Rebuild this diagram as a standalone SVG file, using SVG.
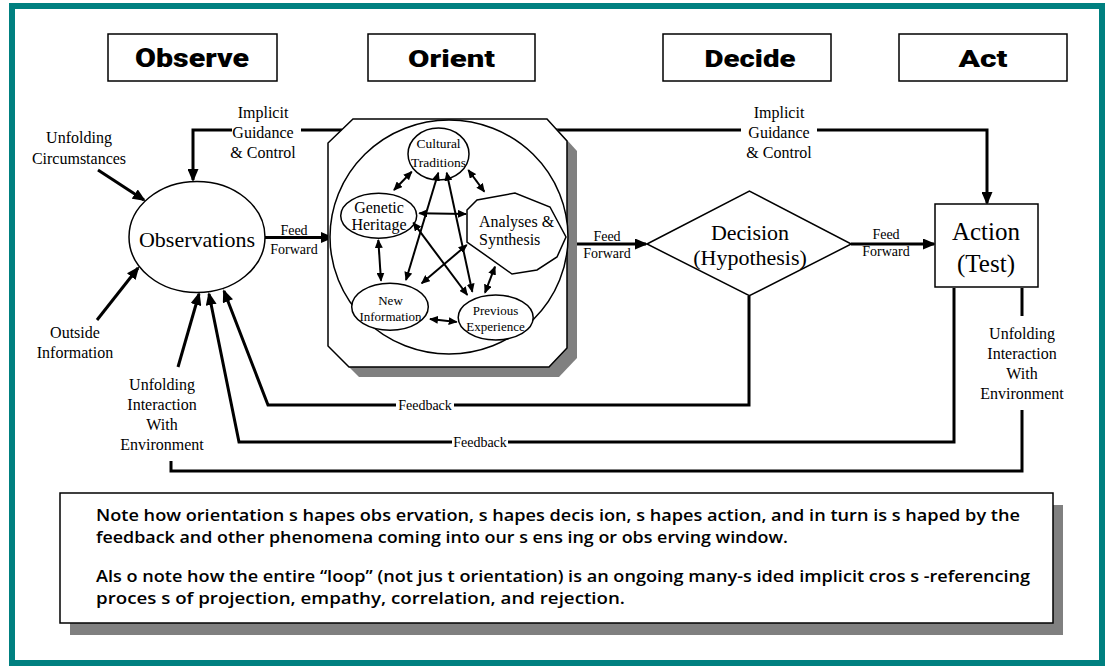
<svg xmlns="http://www.w3.org/2000/svg" width="1105" height="666" viewBox="0 0 1105 666">
<defs>
<style>
.hdr{fill:#fff;stroke:#000;stroke-width:1.5}
.hdrt{font-family:Roboto,"Liberation Sans",sans-serif;font-weight:900;text-anchor:middle;fill:#000}
.s{font-family:"Liberation Serif","Times New Roman",serif;text-anchor:middle;fill:#000}
.node{fill:#fff;stroke:#000;stroke-width:1.5}
.c{fill:none;stroke:#000;stroke-width:3}
.ci{fill:none;stroke:#000;stroke-width:2}
.note{font-family:"Open Sans","Liberation Sans",sans-serif;font-size:17px;font-weight:600;fill:#000}
</style>
<marker id="ah" markerUnits="userSpaceOnUse" markerWidth="13" markerHeight="11" viewBox="0 0 13 11" refX="11" refY="5.5" orient="auto">
<path d="M0,0 L13,5.5 L0,11 z" fill="#000"/>
</marker>
<marker id="ai" markerUnits="userSpaceOnUse" markerWidth="9" markerHeight="8" viewBox="0 0 9 8" refX="8" refY="4" orient="auto-start-reverse">
<path d="M0,0 L9,4 L0,8 z" fill="#000"/>
</marker>
</defs>
<rect x="0" y="0" width="1105" height="666" fill="#fff"/>
<rect x="12" y="6" width="1090" height="657" fill="#fff" stroke="#008080" stroke-width="6"/>

<g id="hdr-observe"><rect class="hdr" x="108" y="34" width="169" height="47"/><text class="hdrt" x="192" y="66.5" font-size="26" textLength="114" lengthAdjust="spacingAndGlyphs">Observe</text></g>
<g id="hdr-orient"><rect class="hdr" x="368" y="34" width="167" height="47"/><text class="hdrt" x="451.5" y="66.5" font-size="24" textLength="87" lengthAdjust="spacingAndGlyphs">Orient</text></g>
<g id="hdr-decide"><rect class="hdr" x="663" y="34" width="168" height="47"/><text class="hdrt" x="750" y="66.5" font-size="24" textLength="91" lengthAdjust="spacingAndGlyphs">Decide</text></g>
<g id="hdr-act"><rect class="hdr" x="899" y="34" width="168" height="47"/><text class="hdrt" x="983" y="66.5" font-size="24" textLength="49" lengthAdjust="spacingAndGlyphs">Act</text></g>

<g id="connectors">
<path class="c" d="M232,130 H193 V180" marker-end="url(#ah)"/>
<path class="c" d="M301,130 H342"/>
<path class="c" d="M555,130 H741"/>
<path class="c" d="M817,130 H987 V203" marker-end="url(#ah)"/>
<path class="c" d="M265,237.5 H332" marker-end="url(#ah)"/>
<path class="c" d="M567,244 H646" marker-end="url(#ah)"/>
<path class="c" d="M851,244 H934" marker-end="url(#ah)"/>
<path class="c" d="M98,170 L144,200" marker-end="url(#ah)"/>
<path class="c" d="M97,320 L138,268" marker-end="url(#ah)"/>
<path class="c" d="M178,367 L199,294" marker-end="url(#ah)"/>
<path class="c" d="M749,296 V405 H454"/>
<path class="c" d="M396,405 H268 L224,291" marker-end="url(#ah)"/>
<path class="c" d="M954,288 V442 H508"/>
<path class="c" d="M452,442 H239 L209,294" marker-end="url(#ah)"/>
<path class="c" d="M1022,288 V316"/>
<path class="c" d="M1022,410 V471 H171 V461"/>
<text class="s" x="425" y="409.5" font-size="14">Feedback</text>
<text class="s" x="480" y="446.5" font-size="14">Feedback</text>
<text class="s" x="294" y="235" font-size="14">Feed</text>
<text class="s" x="294" y="254" font-size="14">Forward</text>
<text class="s" x="607" y="241" font-size="14">Feed</text>
<text class="s" x="607" y="258" font-size="14">Forward</text>
<text class="s" x="886" y="239" font-size="14">Feed</text>
<text class="s" x="886" y="256" font-size="14">Forward</text>
<text class="s" x="263" y="118" font-size="16">Implicit</text>
<text class="s" x="263" y="138" font-size="16">Guidance</text>
<text class="s" x="263" y="158" font-size="16">&amp; Control</text>
<text class="s" x="779" y="118" font-size="16">Implicit</text>
<text class="s" x="779" y="138" font-size="16">Guidance</text>
<text class="s" x="779" y="158" font-size="16">&amp; Control</text>
<text class="s" x="79" y="143" font-size="16">Unfolding</text>
<text class="s" x="79" y="164" font-size="16">Circumstances</text>
<text class="s" x="75" y="338" font-size="16">Outside</text>
<text class="s" x="75" y="358" font-size="16">Information</text>
<text class="s" x="162" y="390" font-size="16">Unfolding</text>
<text class="s" x="162" y="410" font-size="16">Interaction</text>
<text class="s" x="162" y="430" font-size="16">With</text>
<text class="s" x="162" y="450" font-size="16">Environment</text>
<text class="s" x="1022" y="339" font-size="16">Unfolding</text>
<text class="s" x="1022" y="359" font-size="16">Interaction</text>
<text class="s" x="1022" y="379" font-size="16">With</text>
<text class="s" x="1022" y="399" font-size="16">Environment</text>
</g>

<g id="observations">
<ellipse class="node" cx="197" cy="237" rx="68" ry="55.5"/>
<text class="s" x="197" y="246.5" font-size="22">Observations</text>
</g>

<g id="orient">
<polygon points="363,129 557,129 577,151 577,358 559,377 359,377 338,356 338,153" fill="#808080"/>
<polygon class="node" points="353,119 547,119 567,141 567,348 549,367 349,367 328,346 328,143"/>
<ellipse class="node" cx="449" cy="237" rx="119" ry="117"/>
</g>

<g id="cultural-traditions">
<ellipse class="node" cx="438.5" cy="154" rx="30.5" ry="26"/>
<text class="s" x="438.5" y="147.5" font-size="13.5">Cultural</text>
<text class="s" x="438.5" y="167" font-size="13.5">Traditions</text>
</g>
<g id="genetic-heritage">
<ellipse class="node" cx="378.7" cy="215.7" rx="38" ry="22.5"/>
<text class="s" x="379" y="213" font-size="16">Genetic</text>
<text class="s" x="379" y="229.5" font-size="16">Heritage</text>
</g>
<g id="analyses-synthesis">
<polygon class="node" points="467,210 477,200 515,193 550,207 566,237 557,257 537,270 512,274 467,242"/>
<text class="s" x="479" y="226.5" font-size="16" style="text-anchor:start">Analyses &amp;</text>
<text class="s" x="479" y="244.5" font-size="16" style="text-anchor:start">Synthesis</text>
</g>
<g id="new-information">
<ellipse class="node" cx="390" cy="306.7" rx="38.3" ry="23.5"/>
<text class="s" x="390.5" y="305" font-size="13">New</text>
<text class="s" x="390.5" y="320.5" font-size="13">Information</text>
</g>
<g id="previous-experience">
<ellipse class="node" cx="495.7" cy="317.5" rx="37.5" ry="22.5"/>
<text class="s" x="495.5" y="315" font-size="13">Previous</text>
<text class="s" x="495.5" y="330.5" font-size="13">Experience</text>
</g>

<g id="inner-connectors">
<line class="ci" x1="411.7" y1="171.7" x2="394" y2="190" marker-start="url(#ai)" marker-end="url(#ai)"/>
<line class="ci" x1="468.3" y1="170" x2="484.3" y2="191.7" marker-start="url(#ai)" marker-end="url(#ai)"/>
<line class="ci" x1="419.3" y1="213.3" x2="466" y2="214" marker-start="url(#ai)" marker-end="url(#ai)"/>
<line class="ci" x1="378.3" y1="240" x2="381" y2="280.7" marker-start="url(#ai)" marker-end="url(#ai)"/>
<line class="ci" x1="430" y1="319" x2="456.7" y2="322" marker-start="url(#ai)" marker-end="url(#ai)"/>
<line class="ci" x1="495" y1="266.7" x2="485" y2="292.7" marker-start="url(#ai)" marker-end="url(#ai)"/>
<line class="ci" x1="406" y1="280" x2="438.3" y2="172.7" marker-start="url(#ai)" marker-end="url(#ai)"/>
<line class="ci" x1="446.7" y1="172.7" x2="472.3" y2="291.7" marker-start="url(#ai)" marker-end="url(#ai)"/>
<line class="ci" x1="413.3" y1="222.7" x2="467.3" y2="295" marker-start="url(#ai)" marker-end="url(#ai)"/>
<line class="ci" x1="466.7" y1="245" x2="421.7" y2="283.3" marker-start="url(#ai)" marker-end="url(#ai)"/>
</g>

<g id="decision">
<polygon class="node" points="647,244 749.4,191 851.3,244 749.4,295.7"/>
<text class="s" x="750" y="240" font-size="22">Decision</text>
<text class="s" x="750" y="265" font-size="22">(Hypothesis)</text>
</g>

<g id="action">
<rect class="node" x="935" y="204" width="103" height="83"/>
<text class="s" x="986" y="240" font-size="25">Action</text>
<text class="s" x="986" y="272" font-size="25">(Test)</text>
</g>

<g id="note">
<rect x="70" y="505" width="993" height="130" fill="#808080"/>
<rect x="60" y="493" width="993" height="130" fill="#fff" stroke="#000" stroke-width="1.5"/>
<text class="note" x="96" y="521" textLength="924" lengthAdjust="spacingAndGlyphs">Note how orientation s hapes obs ervation, s hapes decis ion, s hapes action, and in turn is s haped by the</text>
<text class="note" x="96" y="543" textLength="692" lengthAdjust="spacingAndGlyphs">feedback and other phenomena coming into our s ens ing or obs erving window.</text>
<text class="note" x="96" y="581.5" textLength="934" lengthAdjust="spacingAndGlyphs">Als o note how the entire “loop” (not jus t orientation) is an ongoing many-s ided implicit cros s -referencing</text>
<text class="note" x="96" y="603.5" textLength="529" lengthAdjust="spacingAndGlyphs">proces s of projection, empathy, correlation, and rejection.</text>
</g>
</svg>
